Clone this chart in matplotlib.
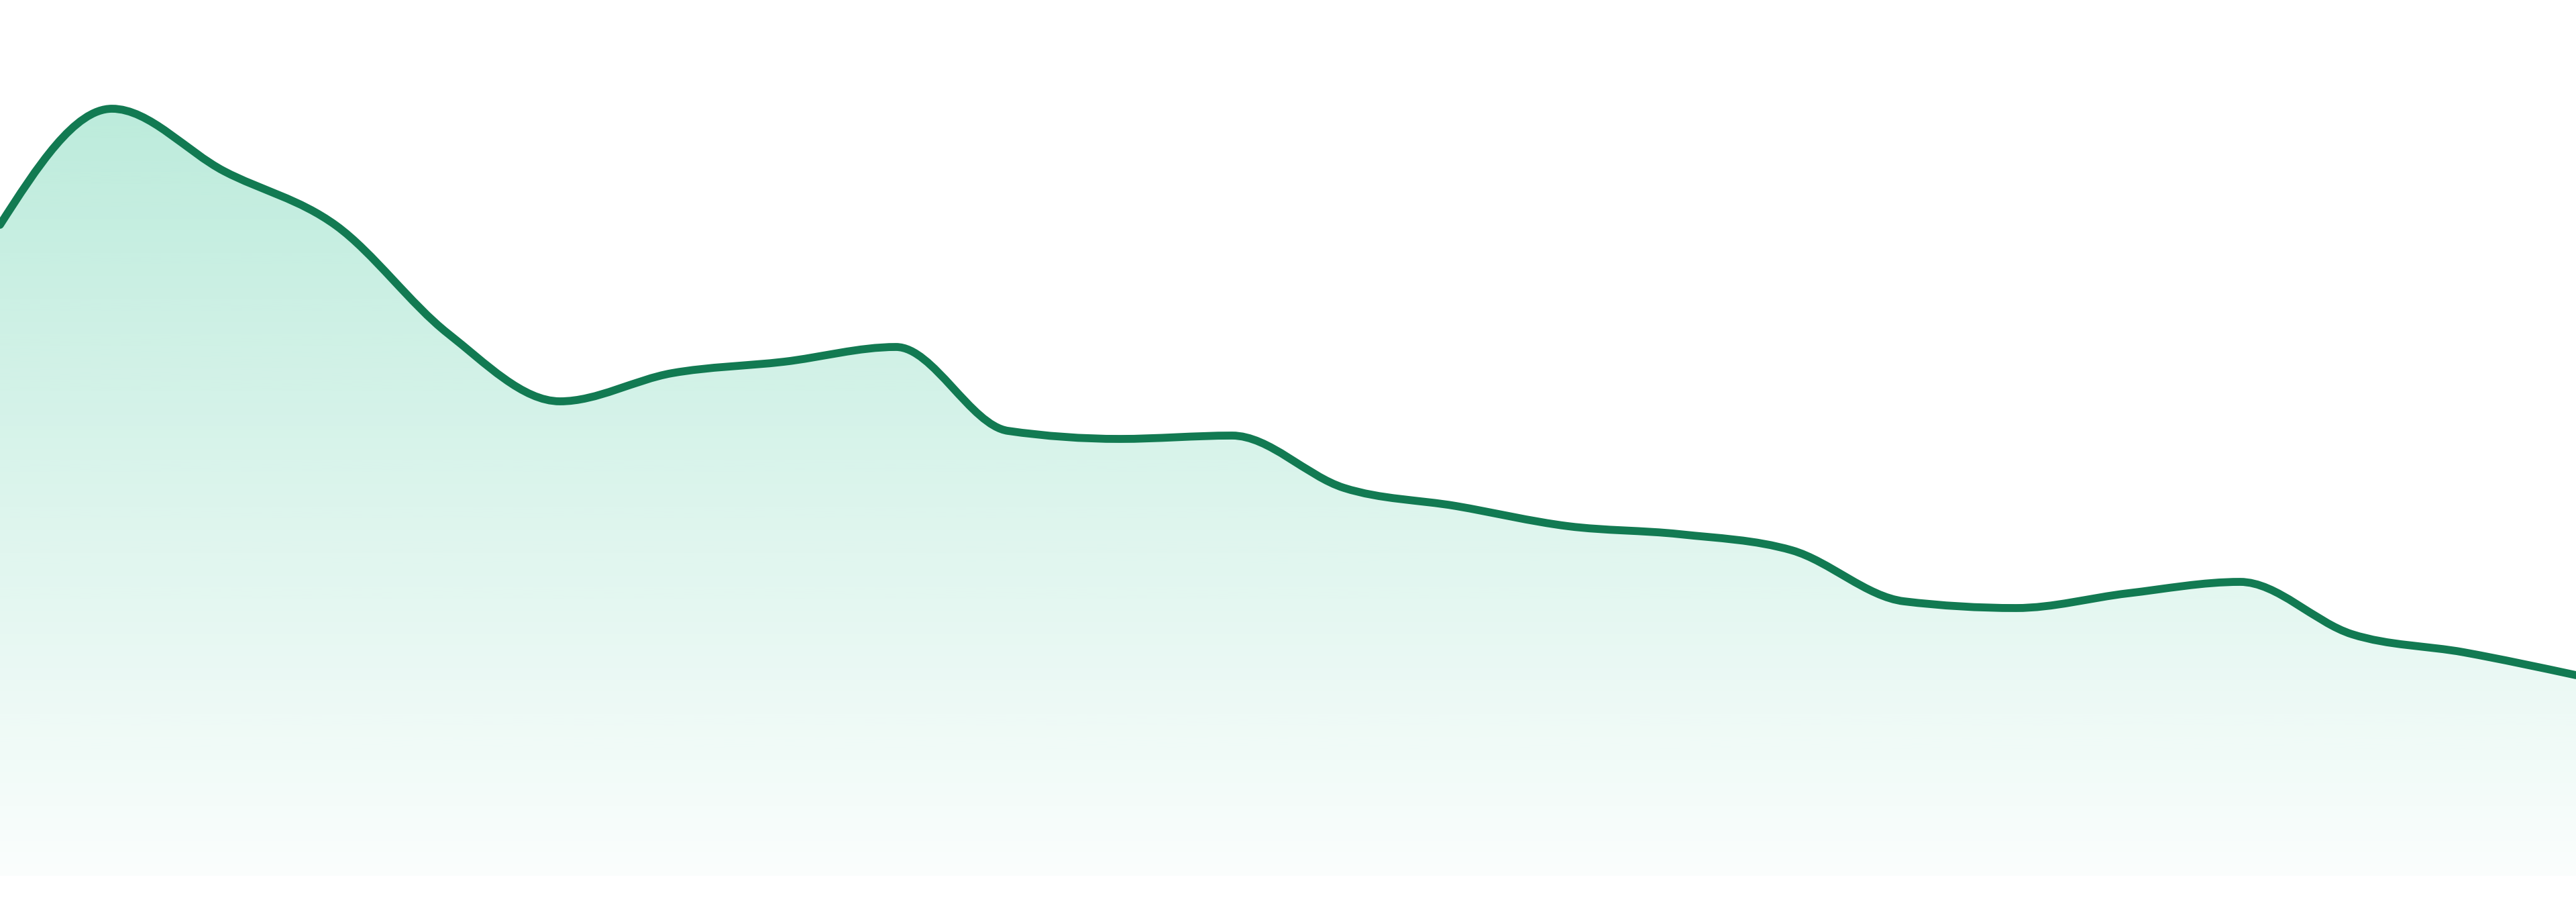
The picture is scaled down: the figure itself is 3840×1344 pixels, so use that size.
import numpy as np
import matplotlib
matplotlib.use("Agg")
import matplotlib.pyplot as plt
from matplotlib.path import Path
from matplotlib.patches import PathPatch

# values (height above the baseline)
days = list(range(24))
values = [970, 1143, 1050, 969, 808, 707, 749, 766, 788, 663, 651, 656,
          578, 551, 521, 509, 485, 409, 399, 421, 438, 360, 333, 299]

LINE_COLOR = "#127a52"
FILL_RGB = (16 / 255, 185 / 255, 129 / 255)


def monotone_tangents(x, y):
    # same tangents as d3.curveMonotoneX
    n = len(x)
    h = np.diff(x)
    s = np.diff(y) / h
    t = np.zeros(n)
    for i in range(1, n - 1):
        s0, s1 = s[i - 1], s[i]
        p = (s0 * h[i] + s1 * h[i - 1]) / (h[i - 1] + h[i])
        t[i] = (np.sign(s0) + np.sign(s1)) * min(abs(s0), abs(s1), 0.5 * abs(p))
    t[0] = (3 * s[0] - t[1]) / 2
    t[-1] = (3 * s[-1] - t[-2]) / 2
    return t


def curve_verts(x, y):
    t = monotone_tangents(x, y)
    verts = [(x[0], y[0])]
    codes = [Path.MOVETO]
    for i in range(len(x) - 1):
        dx = (x[i + 1] - x[i]) / 3
        verts += [(x[i] + dx, y[i] + dx * t[i]),
                  (x[i + 1] - dx, y[i + 1] - dx * t[i + 1]),
                  (x[i + 1], y[i + 1])]
        codes += [Path.CURVE4] * 3
    return verts, codes


x = np.array(days, dtype=float)
y = np.array(values, dtype=float)

fig = plt.figure(figsize=(38.4, 13.44), dpi=100)
ax = fig.add_axes([0, 39 / 1344, 1, 1305 / 1344])
ax.set_xlim(x[0], x[-1])
ax.set_ylim(0, 1305)
ax.axis("off")

verts, codes = curve_verts(x, y)

# area under the curve, filled with a vertical gradient
area_verts = verts + [(x[-1], 0), (x[0], 0), (x[0], y[0])]
area_codes = codes + [Path.LINETO, Path.LINETO, Path.CLOSEPOLY]
area = PathPatch(Path(area_verts, area_codes), facecolor="none",
                 edgecolor="none", transform=ax.transData)
ax.add_patch(area)

top = y.max()
alpha = np.linspace(0.02, 0.28, 256)
grad = np.zeros((256, 1, 4))
grad[:, 0, 0] = FILL_RGB[0]
grad[:, 0, 1] = FILL_RGB[1]
grad[:, 0, 2] = FILL_RGB[2]
grad[:, 0, 3] = alpha
im = ax.imshow(grad, extent=[x[0], x[-1], 0, top], origin="lower",
               aspect="auto", interpolation="bicubic", zorder=1)
im.set_clip_path(area)

line = PathPatch(Path(verts, codes), facecolor="none", edgecolor=LINE_COLOR,
                 linewidth=8.5, capstyle="round", joinstyle="round", zorder=2)
ax.add_patch(line)

ax.set_xlim(x[0], x[-1])
ax.set_ylim(0, 1305)

fig.savefig("out.png", dpi=100, facecolor="white")
